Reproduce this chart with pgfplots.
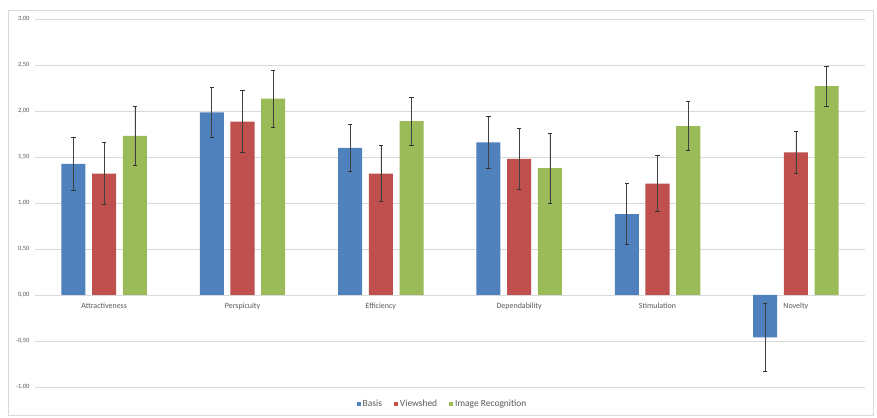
\documentclass[border=0pt]{standalone}
\usepackage{pgfplots}
\pgfplotsset{compat=1.18}
\usepackage{fontspec}
\setmainfont{Carlito}
\definecolor{cBasis}{HTML}{4F81BD}
\definecolor{cView}{HTML}{C0504D}
\definecolor{cImg}{HTML}{9BBB59}
\definecolor{gridc}{HTML}{D9D9D9}
\definecolor{txt}{HTML}{595959}
\begin{document}
\begin{tikzpicture}
\path[use as bounding box, fill=white] (-35bp,-31bp) rectangle (842bp,387bp);
\draw[gridc, line width=0.75bp] (-27bp,-28bp) rectangle (838bp,377bp);
\begin{axis}[
  at={(0,0)}, anchor=south west,
  scale only axis, width=830bp, height=368bp,
  xmin=-0.5, xmax=5.5, ymin=-1, ymax=3,
  axis line style={draw=none},
  major tick length=0pt,
  ytick={-1,-0.5,0,0.5,1,1.5,2,2.5,3},
  ymajorgrids, grid style={gridc, line width=0.75bp},
  xtick={0,1,2,3,4,5},
  xticklabels={Attractiveness,Perspicuity,Efficiency,Dependability,Stimulation,Novelty},
  xticklabel style={yshift=88bp, font=\fontsize{8}{9}\selectfont, text=txt},
  yticklabel style={font=\fontsize{6.5}{8}\selectfont, text=txt, xshift=-2bp},
  /pgf/number format/.cd, fixed, fixed zerofill, precision=2, use comma, assume math mode=true,
  /pgfplots/.cd,
  ybar, bar width=0.174,
  legend style={at={(0.491,-0.047)}, anchor=center, draw=none, fill=none,
    legend columns=-1, font=\fontsize{9.5}{11}\selectfont, text=txt,
    /tikz/every even column/.append style={column sep=10bp}},
  legend image code/.code={\fill[#1] (0bp,-2bp) rectangle (4bp,2bp);},
  error bars/y dir=both, error bars/y explicit,
  error bars/error bar style={black!75, line width=0.6bp},
  error bars/error mark options={rotate=90, black!80, mark size=2.2bp, line width=0.6bp},
]
\addplot[fill=cBasis, draw=none, bar shift=-0.222] coordinates {
  (0,1.425) +- (0,0.285)
  (1,1.985) +- (0,0.27)
  (2,1.60) +- (0,0.26)
  (3,1.66) +- (0,0.285)
  (4,0.88) +- (0,0.33)
  (5,-0.46) +- (0,0.37)
};
\addplot[fill=cView, draw=none, bar shift=0] coordinates {
  (0,1.32) +- (0,0.335)
  (1,1.885) +- (0,0.335)
  (2,1.32) +- (0,0.305)
  (3,1.48) +- (0,0.33)
  (4,1.21) +- (0,0.305)
  (5,1.55) +- (0,0.23)
};
\addplot[fill=cImg, draw=none, bar shift=0.222] coordinates {
  (0,1.73) +- (0,0.32)
  (1,2.135) +- (0,0.31)
  (2,1.89) +- (0,0.26)
  (3,1.38) +- (0,0.38)
  (4,1.835) +- (0,0.265)
  (5,2.27) +- (0,0.22)
};
\legend{Basis,Viewshed,Image Recognition}
\end{axis}
\end{tikzpicture}
\end{document}
